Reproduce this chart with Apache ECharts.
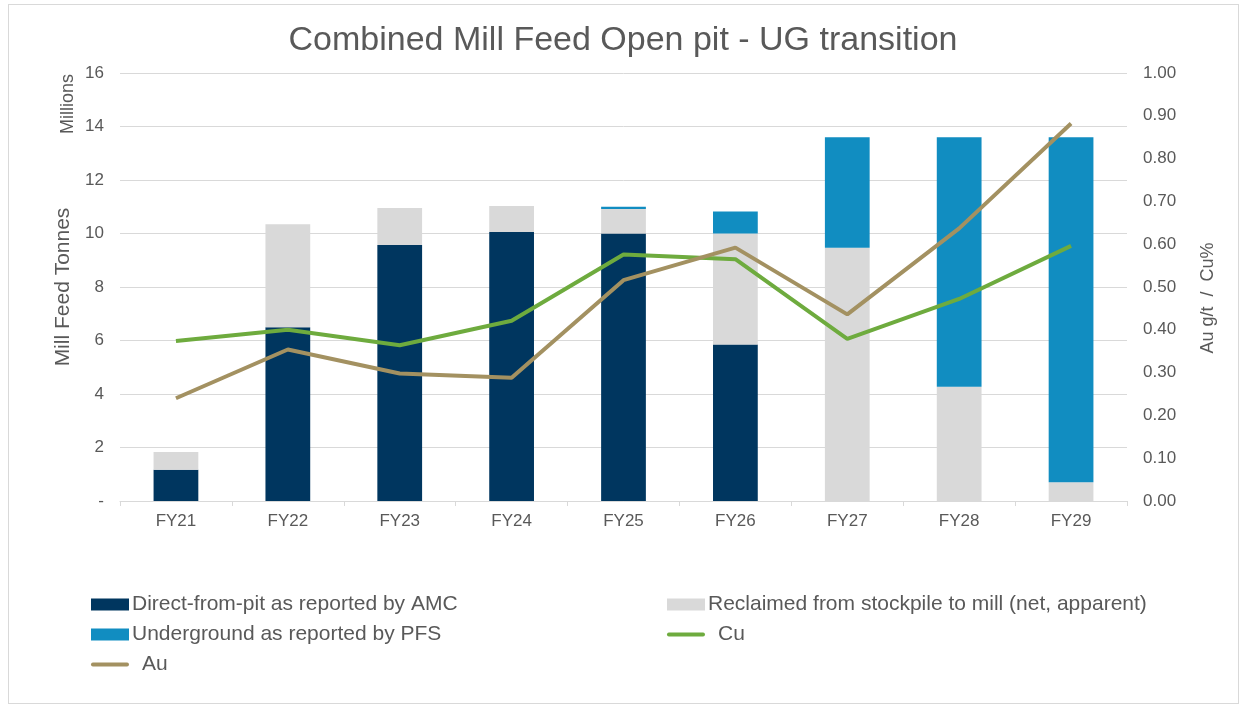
<!DOCTYPE html>
<html>
<head>
<meta charset="utf-8">
<script src="https://cdn.jsdelivr.net/npm/echarts@6/dist/echarts.min.js"></script>
<style>
  html, body { margin: 0; padding: 0; background: #ffffff; }
  #frame { position: absolute; left: 8px; top: 4px; width: 1231px; height: 700px; border: 1px solid #d9d9d9; box-sizing: border-box; }
  #chart { position: absolute; left: 0; top: 0; width: 1246px; height: 706px; }
</style>
</head>
<body>
<div id="frame"></div>
<div id="chart"></div>
<script>
// Fiscal years
const years = ['FY21', 'FY22', 'FY23', 'FY24', 'FY25', 'FY26', 'FY27', 'FY28', 'FY29'];

// Mill feed tonnes (millions), stacked
const directFromPit = [1.17, 6.50, 9.57, 10.06, 10.00, 5.85, 0, 0, 0];
const reclaimedStockpile = [0.66, 3.85, 1.38, 0.97, 0.92, 4.15, 9.47, 4.27, 0.70];
const undergroundPFS = [0, 0, 0, 0, 0.08, 0.82, 4.13, 9.33, 12.90];

// Head grades
const cuGrade = [0.374, 0.400, 0.364, 0.421, 0.576, 0.565, 0.379, 0.472, 0.596];
const auGrade = [0.240, 0.354, 0.298, 0.288, 0.516, 0.592, 0.436, 0.637, 0.882];

const leftTicks = [0, 2, 4, 6, 8, 10, 12, 14, 16];

const textColor = '#595959';
const font = '"Liberation Sans", Arial, sans-serif';

// Thin bar used as the legend key of the grade lines
const lineKey = 'path://M2,0 L38,0 A2,2 0 0 1 38,4 L2,4 A2,2 0 0 1 2,0 Z';

const chart = echarts.init(document.getElementById('chart'));

const legendCommon = {
  orient: 'vertical', itemGap: 9,
  itemWidth: 38, itemHeight: 12,
  symbolKeepAspect: true,
  textStyle: { fontFamily: font, fontSize: 21, color: textColor, padding: [0, 0, 0, -2] }
};

chart.setOption({
  animation: false,
  textStyle: { fontFamily: font, color: textColor },
  title: {
    text: 'Combined Mill Feed Open pit - UG transition',
    left: 'center',
    top: 19,
    textStyle: { fontFamily: font, fontSize: 34, fontWeight: 'normal', color: textColor }
  },
  grid: { left: 120, right: 119, top: 73, bottom: 205 },
  legend: [
    Object.assign({}, legendCommon, {
      left: 86, top: 589,
      data: [
        { name: 'Direct-from-pit as reported by AMC', icon: 'rect' },
        { name: 'Underground as reported by PFS', icon: 'rect' },
        { name: 'Au', icon: lineKey, textStyle: { padding: [0, 0, 0, 8] } }
      ]
    }),
    Object.assign({}, legendCommon, {
      left: 662, top: 589,
      data: [
        { name: 'Reclaimed from stockpile to mill (net, apparent)', icon: 'rect' },
        { name: 'Cu', icon: lineKey, textStyle: { padding: [0, 0, 0, 8] } }
      ]
    })
  ],
  xAxis: {
    type: 'category',
    data: years,
    axisLine: { lineStyle: { color: '#d9d9d9', width: 1 } },
    axisTick: { show: true, length: 5, lineStyle: { color: '#d9d9d9' } },
    axisLabel: { fontSize: 17, color: textColor, margin: 12, fontFamily: font }
  },
  yAxis: [
    {
      type: 'value',
      min: leftTicks[0],
      max: leftTicks[leftTicks.length - 1],
      interval: 2,
      name: 'Mill Feed Tonnes',
      nameLocation: 'middle',
      nameGap: 44,
      nameTextStyle: { fontSize: 21, color: textColor, fontFamily: font },
      axisLine: { show: false },
      axisTick: { show: false },
      splitLine: { lineStyle: { color: '#d9d9d9', width: 1 } },
      axisLabel: {
        fontSize: 17, color: textColor, margin: 16, fontFamily: font,
        formatter: v => (v === 0 ? '-' : String(v))
      }
    },
    {
      type: 'value',
      min: 0,
      max: 1,
      interval: 0.1,
      name: 'Au g/t  /  Cu%',
      nameLocation: 'middle',
      nameGap: 72,
      nameRotate: 90,
      nameTextStyle: { fontSize: 18, color: textColor, fontFamily: font, padding: [0, 22, 0, 0] },
      axisLine: { show: false },
      axisTick: { show: false },
      splitLine: { show: false },
      axisLabel: {
        fontSize: 17, color: textColor, margin: 16, fontFamily: font,
        formatter: v => v.toFixed(2)
      }
    }
  ],
  graphic: [
    {
      type: 'text',
      left: 59,
      top: 74,
      rotation: Math.PI / 2,
      style: { text: 'Millions', fontSize: 18, fill: textColor, fontFamily: font }
    }
  ],
  series: [
    {
      name: 'Direct-from-pit as reported by AMC',
      type: 'bar', stack: 'feed', barWidth: '40%',
      itemStyle: { color: '#00365f' },
      data: directFromPit
    },
    {
      name: 'Reclaimed from stockpile to mill (net, apparent)',
      type: 'bar', stack: 'feed',
      itemStyle: { color: '#d9d9d9' },
      data: reclaimedStockpile
    },
    {
      name: 'Underground as reported by PFS',
      type: 'bar', stack: 'feed',
      itemStyle: { color: '#118dc1' },
      data: undergroundPFS
    },
    {
      name: 'Cu',
      type: 'line', yAxisIndex: 1,
      symbol: 'none',
      lineStyle: { color: '#6eab3e', width: 4 },
      itemStyle: { color: '#6eab3e' },
      data: cuGrade
    },
    {
      name: 'Au',
      type: 'line', yAxisIndex: 1,
      symbol: 'none',
      lineStyle: { color: '#a39161', width: 4 },
      itemStyle: { color: '#a39161' },
      data: auGrade
    }
  ]
});
</script>
</body>
</html>
